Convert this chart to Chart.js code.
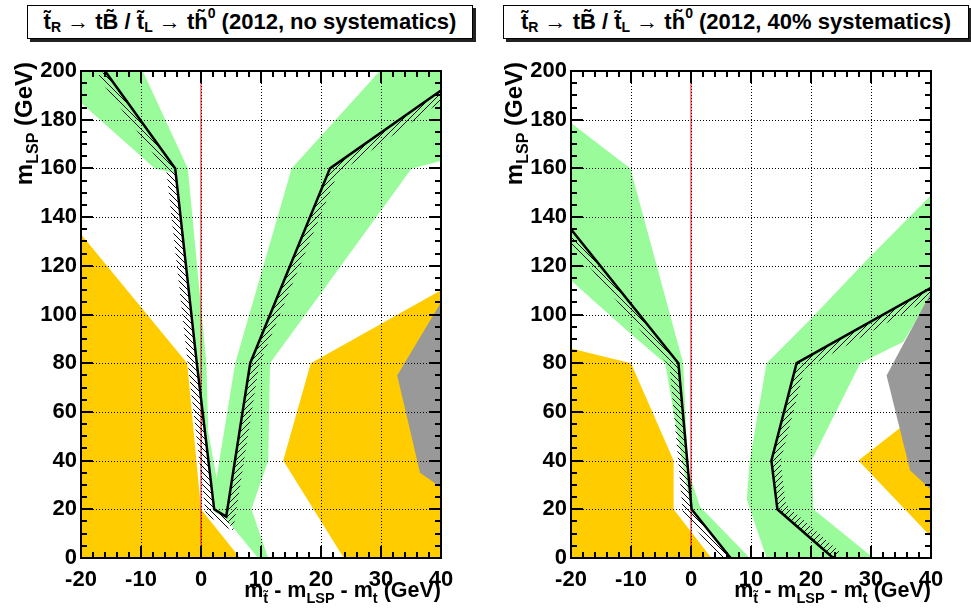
<!DOCTYPE html>
<html>
<head>
<meta charset="utf-8">
<script src="https://cdn.jsdelivr.net/npm/chart.js@4.4.1/dist/chart.umd.min.js"></script>
<style>
  body { margin: 0; background: #fff; width: 971px; height: 613px; position: relative; overflow: hidden;
         font-family: "Liberation Sans", Arial, sans-serif; font-weight: bold; color: #000; }
  .panel { position: absolute; top: 0; height: 613px; }
  .panel canvas { position: absolute; left: 0; top: 0; }
  .frame { position: absolute; box-sizing: border-box; border: 2px solid #000; pointer-events: none; }
  .title { position: absolute; top: 5px; height: 32px; border: 1px solid #000; box-shadow: 3px 3px 0 #222;
           background: #fff; display: flex; align-items: center; justify-content: center;
           font-size: 22px; white-space: nowrap; }
  .sb { font-size: 14px; position: relative; top: 5px; }
  .sp { font-size: 14px; position: relative; top: -9px; }
  .ytitle { position: absolute; left: 12px; top: 202px; width: 140px; height: 24px; line-height: 24px;
            text-align: right; font-size: 24px; white-space: nowrap;
            transform-origin: 0 0; transform: rotate(-90deg); }
  .ytitle .sb { font-size: 16px; top: 6px; }
  .xtitle { position: absolute; left: 0; width: 441px; top: 579px; height: 22px; line-height: 22px;
            text-align: right; font-size: 21.5px; white-space: nowrap; }
  .xtitle .sb { font-size: 14.5px; top: 6px; }
</style>
</head>
<body>
<div class="title" style="left:27px;width:444px;">t&#771;<span class="sb">R</span>&nbsp;&rarr; tB&#771; / t&#771;<span class="sb">L</span>&nbsp;&rarr; th&#771;<span class="sp">0</span>&nbsp;(2012, no systematics)</div>
<div class="title" style="left:503px;width:464px;">t&#771;<span class="sb">R</span>&nbsp;&rarr; tB&#771; / t&#771;<span class="sb">L</span>&nbsp;&rarr; th&#771;<span class="sp">0</span>&nbsp;(2012, 40% systematics)</div>

<div class="panel" style="left:0;width:485px;">
  <canvas id="noSyst" width="485" height="613"></canvas>
  <canvas id="noSystAxes" width="485" height="613"></canvas>
  <div class="frame" id="noSystFrame"></div>
  <div class="ytitle">m<span class="sb">LSP</span> (GeV)</div>
  <div class="xtitle">m<span class="sb">t&#771;</span> - m<span class="sb">LSP</span> - m<span class="sb">t</span> (GeV)</div>
</div>
<div class="panel" style="left:490px;width:481px;">
  <canvas id="syst40" width="481" height="613"></canvas>
  <canvas id="syst40Axes" width="481" height="613"></canvas>
  <div class="frame" id="syst40Frame"></div>
  <div class="ytitle">m<span class="sb">LSP</span> (GeV)</div>
  <div class="xtitle">m<span class="sb">t&#771;</span> - m<span class="sb">LSP</span> - m<span class="sb">t</span> (GeV)</div>
</div>

<script>
// axis ticks
const xTicks = [-20, -10, 0, 10, 20, 30, 40];
const yTicks = [0, 20, 40, 60, 80, 100, 120, 140, 160, 180, 200];

// 2012, no systematics  -- [dM, mLSP] vertices
const noSystGreen = [[-20, 200], [-9.7, 200], [-2.2, 160], [0.9, 80], [1.2, 52], [2.6, 33], [5.7, 80], [15.1, 160],
  [29.8, 200], [40, 200], [40, 163], [35.1, 160], [11.5, 80], [11.2, 40], [8.4, 20], [11.2, 0], [9.5, 0],
  [4.2, 16], [2.2, 19], [-0.7, 80], [-4.3, 158], [-7.7, 160], [-20, 187]];
const noSystOrangeLeft = [[-20, 0], [-20, 133], [-2.3, 80], [0, 20], [6.5, 0]];
const noSystOrangeRight = [[40, 110], [18.3, 80], [13.7, 40], [23.8, 0], [40, 0]];
const noSystGray = [[40, 105], [32.7, 75], [36.5, 35], [40, 29]];
const noSystLimit = [[-16, 200], [-4.3, 160], [-0.7, 80], [2.2, 20], [4.2, 17], [8.2, 80], [21.5, 160], [40, 192]];

// 2012, 40% systematics
const systGreenLeft = [[-20, 178.6], [-10.1, 160], [-1.3, 80], [-0.5, 36], [1.5, 21], [9.8, 0], [6.6, 0], [0, 20],
  [-1.5, 40], [-4.3, 80], [-10.2, 92.4], [-20, 114]];
const systGreenRight = [[12.6, 0], [9.3, 24], [9.8, 40], [12.6, 80], [19.8, 97.7], [29.3, 122.4], [40, 149],
  [40, 108], [35.4, 88.8], [28.2, 80], [20.1, 40], [20.4, 20], [30.4, 0]];
const systOrangeLeft = [[-20, 0], [-20, 86], [-10, 80], [-2.9, 40], [-2.9, 20], [3.4, 0]];
const systOrangeRight = [[27.9, 40], [34.6, 53], [40, 60], [40, 8.7]];
const systGray = [[40, 109], [32.6, 75], [36.5, 36], [40, 28]];
const systLimitLeft = [[-20, 135], [-2.1, 80], [0.1, 20], [6.6, 0]];
const systLimitRight = [[23.7, 0], [14.4, 20], [13.4, 40], [17.6, 80], [40, 111]];

const zeroLine = [[0, 0], [0, 200]];

const GREEN = '#99fb99';
const ORANGE = '#ffcc00';
const GRAY = '#999999';
const FONT = '"Liberation Sans", Arial, sans-serif';

function toXY(pts) {
    return pts.map(p => ({ x: p[0], y: p[1] }));
}

function area(pts, color, order) {
    return {
        data: toXY(pts),
        backgroundColor: color,
        borderColor: 'transparent',
        borderWidth: 0,
        pointRadius: 0,
        fill: 'shape',
        order: order
    };
}

function limitLine(pts) {
    return {
        data: toXY(pts),
        borderColor: '#000',
        borderWidth: 2.5,
        pointRadius: 0,
        fill: false,
        hatch: true,
        order: 1
    };
}

function makePattern(ctx, back) {
    const c = document.createElement('canvas');
    c.width = c.height = 6;
    const g = c.getContext('2d');
    g.strokeStyle = '#000';
    g.lineWidth = 1;
    g.beginPath();
    if (back) { g.moveTo(-1, -1); g.lineTo(7, 7); }
    else { g.moveTo(-1, 7); g.lineTo(7, -1); }
    g.stroke();
    return ctx.createPattern(c, 'repeat');
}

// hatched strip on the right-hand side of each limit line (walking along the points)
const hatchPlugin = {
    id: 'hatch',
    beforeDatasetDraw(chart, args) {
        const ds = chart.data.datasets[args.index];
        if (!ds.hatch) return;
        const ctx = chart.ctx;
        const a = chart.chartArea;
        const pts = args.meta.data.map(e => ({ x: e.x, y: e.y }));
        const n = pts.length;
        const w = 9;
        const segN = [];
        for (let i = 0; i < n - 1; i++) {
            const dx = pts[i + 1].x - pts[i].x, dy = pts[i + 1].y - pts[i].y;
            const L = Math.hypot(dx, dy);
            segN.push({ x: -dy / L, y: dx / L });
        }
        const off = pts.map((p, i) => {
            const s1 = segN[Math.max(0, i - 1)], s2 = segN[Math.min(n - 2, i)];
            let mx = s1.x + s2.x, my = s1.y + s2.y;
            const L = Math.hypot(mx, my);
            mx /= L; my /= L;
            const c = Math.max(mx * s2.x + my * s2.y, 0.5);
            return { x: p.x + mx * w / c, y: p.y + my * w / c };
        });
        const down = makePattern(ctx, true), up = makePattern(ctx, false);
        ctx.save();
        ctx.beginPath();
        ctx.rect(a.left, a.top, a.right - a.left, a.bottom - a.top);
        ctx.clip();
        for (let i = 0; i < n - 1; i++) {
            ctx.fillStyle = pts[i + 1].y > pts[i].y ? down : up;
            ctx.beginPath();
            ctx.moveTo(pts[i].x, pts[i].y);
            ctx.lineTo(pts[i + 1].x, pts[i + 1].y);
            ctx.lineTo(off[i + 1].x, off[i + 1].y);
            ctx.lineTo(off[i].x, off[i].y);
            ctx.closePath();
            ctx.fill();
        }
        ctx.restore();
    }
};

// frame box, inward ticks on all four sides and dotted grid, placed from the chart's own area and scales
const framePlugin = {
    id: 'rootFrame',
    afterDraw(chart) {
        const a = chart.chartArea;
        const L = Math.round(a.left), R = Math.round(a.right), T = Math.round(a.top), B = Math.round(a.bottom);
        const box = document.getElementById(chart.canvas.id + 'Frame');
        box.style.left = (L - 1) + 'px';
        box.style.top = (T - 1) + 'px';
        box.style.width = (R - L + 2) + 'px';
        box.style.height = (B - T + 2) + 'px';

        const ctx = document.getElementById(chart.canvas.id + 'Axes').getContext('2d');
        const xs = chart.scales.x, ys = chart.scales.y;
        ctx.clearRect(0, 0, ctx.canvas.width, ctx.canvas.height);

        ctx.strokeStyle = 'rgb(0,0,0)';
        ctx.lineWidth = 1;
        ctx.setLineDash([1, 2]);
        ctx.beginPath();
        xTicks.slice(1, -1).forEach(v => {
            const px = Math.round(xs.getPixelForValue(v)) + 0.5;
            ctx.moveTo(px, T); ctx.lineTo(px, B);
        });
        yTicks.slice(1, -1).forEach(v => {
            const py = Math.round(ys.getPixelForValue(v)) + 0.5;
            ctx.moveTo(L, py); ctx.lineTo(R, py);
        });
        ctx.stroke();

        // ticks as short solid strokes using a long dash so no empty dash array is needed
        ctx.setLineDash([1000, 1]);
        ctx.lineWidth = 2;
        ctx.beginPath();
        for (let v = -20; v <= 40; v += 2) {
            const px = Math.round(xs.getPixelForValue(v));
            const len = (v % 10 === 0) ? 12 : 6;
            ctx.moveTo(px, B); ctx.lineTo(px, B - len);
            ctx.moveTo(px, T); ctx.lineTo(px, T + len);
        }
        for (let v = 0; v <= 200; v += 5) {
            const py = Math.round(ys.getPixelForValue(v));
            const len = (v % 20 === 0) ? 12 : 6;
            ctx.moveTo(L, py); ctx.lineTo(L + len, py);
            ctx.moveTo(R, py); ctx.lineTo(R - len, py);
        }
        ctx.stroke();
    }
};

function makePanel(id, datasets, padRight) {
    const tickFont = { family: FONT, weight: 'bold', size: 22 };
    return new Chart(document.getElementById(id), {
        type: 'line',
        data: { datasets: datasets },
        options: {
            responsive: false,
            animation: false,
            layout: { padding: { top: 71, right: padRight, left: 0, bottom: 0 } },
            plugins: { legend: { display: false }, tooltip: { enabled: false } },
            scales: {
                x: {
                    type: 'linear', min: -20, max: 40,
                    afterBuildTicks: s => { s.ticks = xTicks.map(v => ({ value: v })); },
                    afterFit: s => { s.height = 55; },
                    grid: { display: false, drawTicks: false },
                    border: { display: false },
                    ticks: { color: '#000', font: tickFont, padding: 9, autoSkip: false, maxRotation: 0 }
                },
                y: {
                    type: 'linear', min: 0, max: 200,
                    afterBuildTicks: s => { s.ticks = yTicks.map(v => ({ value: v })); },
                    afterFit: s => { s.width = 81; },
                    grid: { display: false, drawTicks: false },
                    border: { display: false },
                    ticks: { color: '#000', font: tickFont, padding: 4, autoSkip: false }
                }
            }
        },
        plugins: [hatchPlugin, framePlugin]
    });
}

const redLine = () => ({ data: toXY(zeroLine), borderColor: '#ff0000', borderWidth: 1, pointRadius: 0, fill: false, order: 2 });

makePanel('noSyst', [
    area(noSystGreen, GREEN, 6),
    area(noSystOrangeLeft, ORANGE, 5),
    area(noSystOrangeRight, ORANGE, 5),
    area(noSystGray, GRAY, 4),
    redLine(),
    limitLine(noSystLimit)
], 44);

makePanel('syst40', [
    area(systGreenLeft, GREEN, 6),
    area(systGreenRight, GREEN, 6),
    area(systOrangeLeft, ORANGE, 5),
    area(systOrangeRight, ORANGE, 5),
    area(systGray, GRAY, 4),
    redLine(),
    limitLine(systLimitLeft),
    limitLine(systLimitRight)
], 40);
</script>
</body>
</html>
